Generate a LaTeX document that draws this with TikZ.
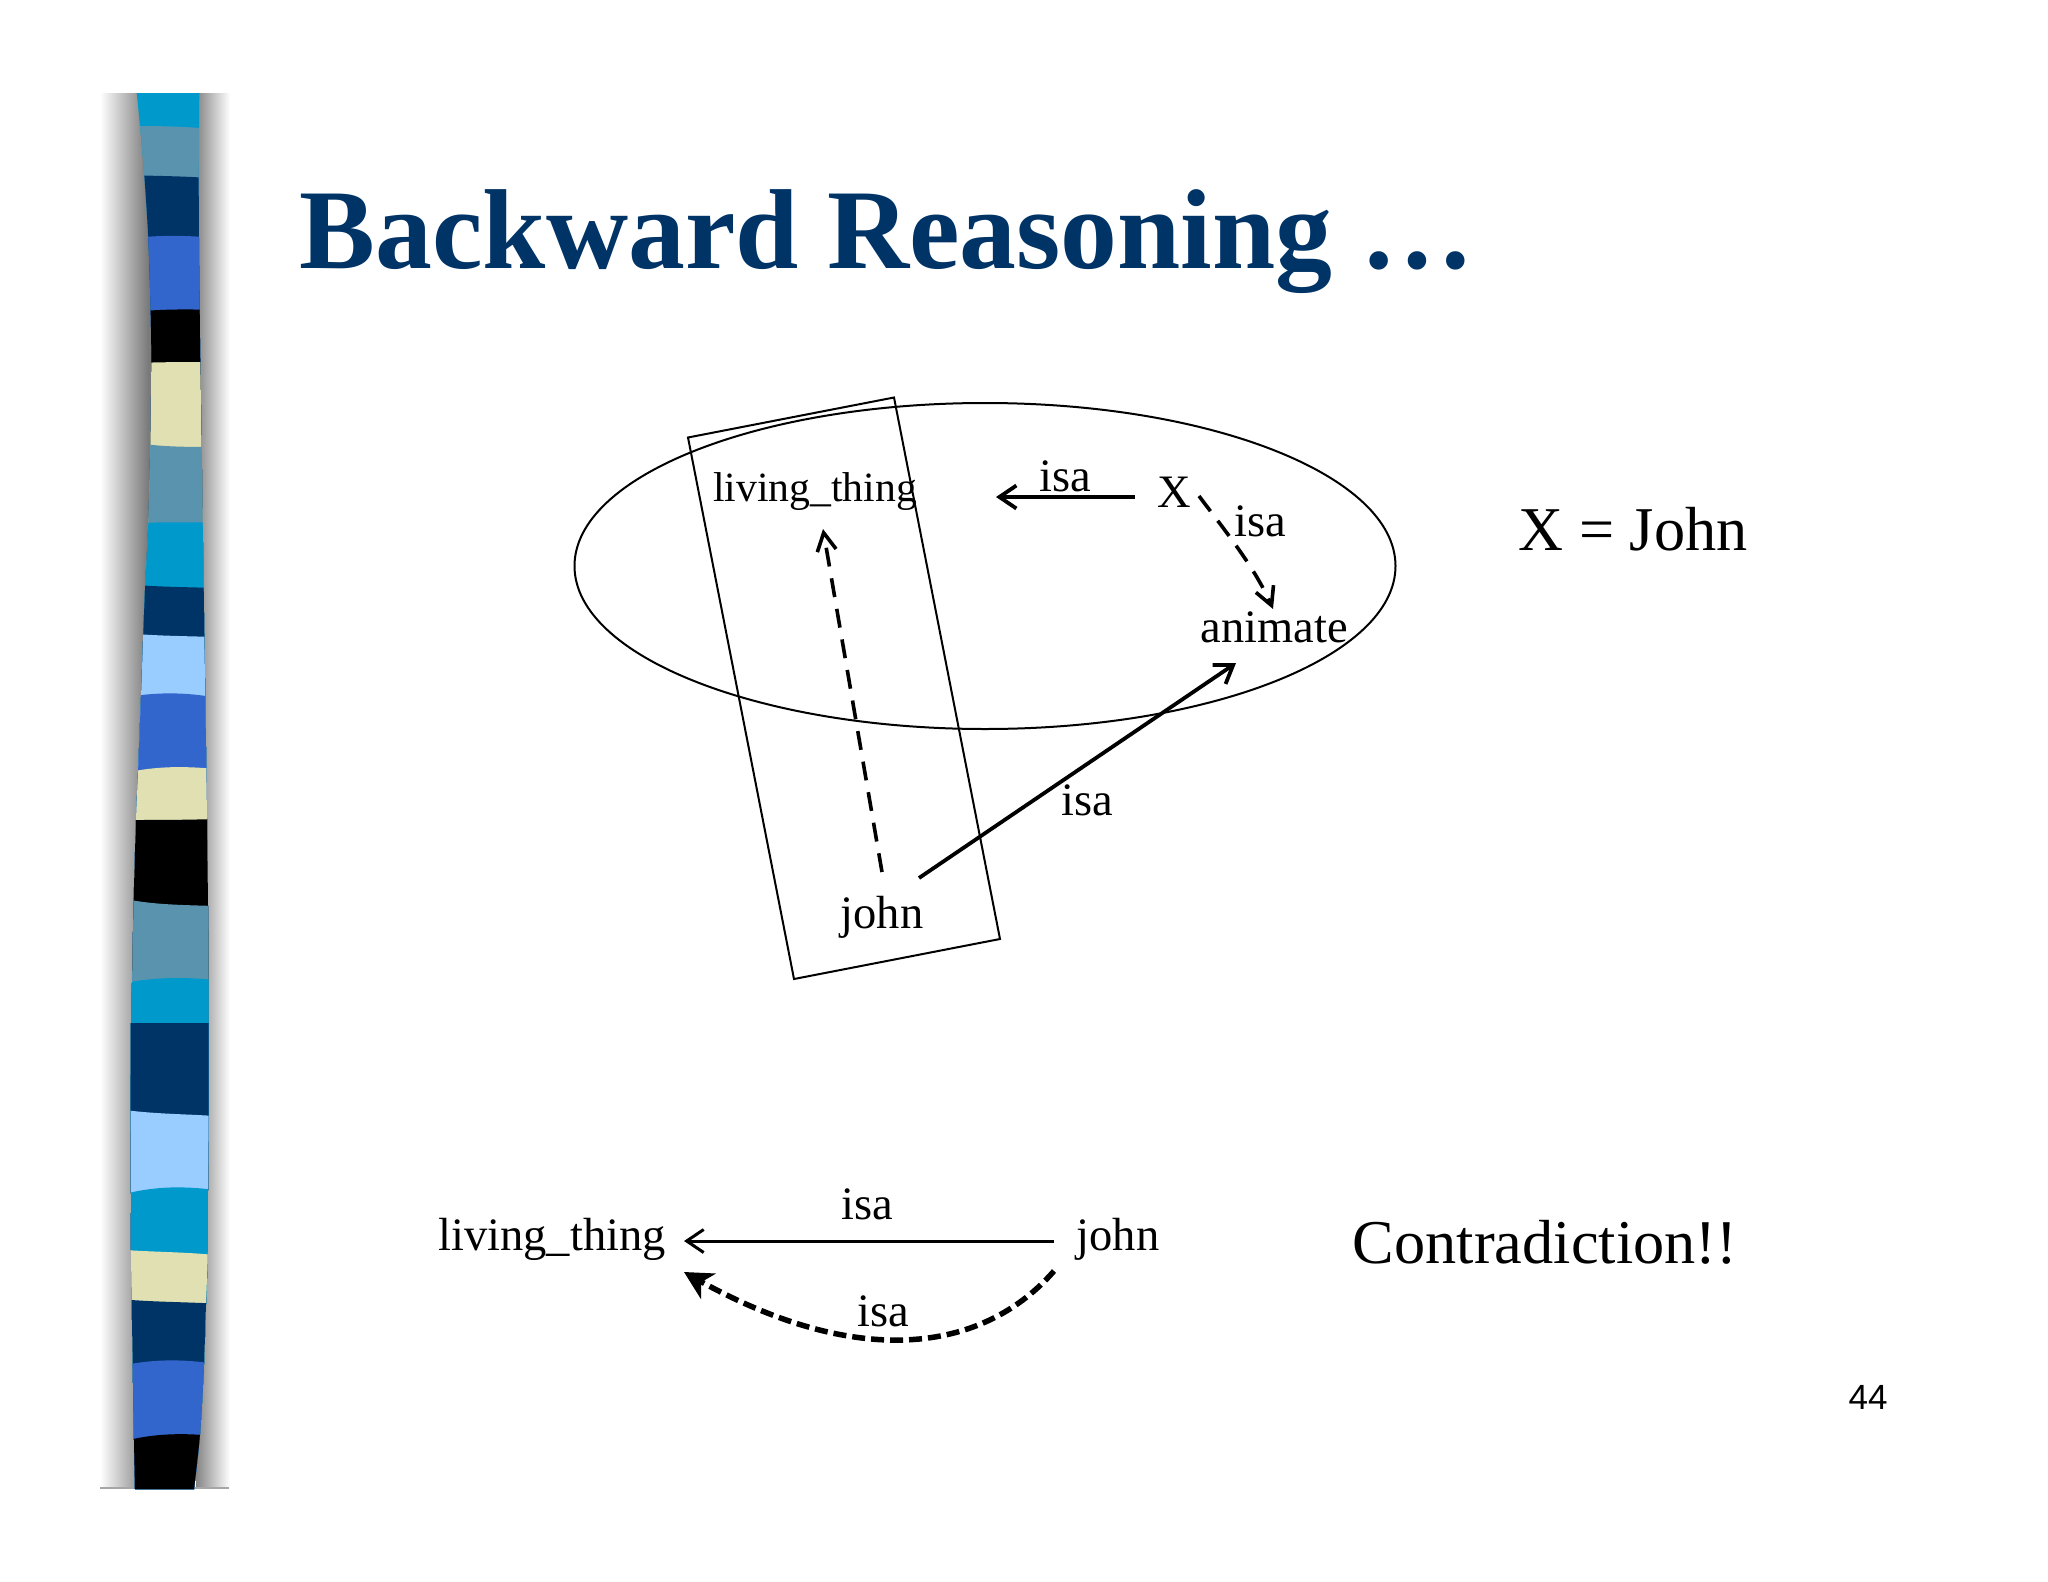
\documentclass[tikz,border=0pt]{standalone}
\usepackage{fontspec}
\setmainfont{Liberation Serif}
\newfontfamily\arialfont{Liberation Sans}
\usetikzlibrary{arrows.meta,shapes.geometric,bending}
\definecolor{titleblue}{HTML}{003366}
\definecolor{bcyan}{HTML}{0099CC}
\definecolor{bsteel}{HTML}{5A93AE}
\definecolor{bnavy}{HTML}{003366}
\definecolor{bblue}{HTML}{3366CC}
\definecolor{bbeige}{HTML}{E0E0B2}
\definecolor{blight}{HTML}{99CCFF}
\tikzset{
  lbl/.style={inner sep=0pt,anchor=base,font=\fontsize{46.5}{50}\selectfont},
  biglbl/.style={inner sep=0pt,anchor=base,font=\fontsize{62.3}{66}\selectfont},
  shape line/.style={draw=black,line width=2pt},
  solidarrow/.style={draw=black,line width=3.8pt,-{Straight Barb[length=17pt,width=23pt,line width=3.8pt]}},
  thinarrow/.style={draw=black,line width=3pt,-{Straight Barb[length=17pt,width=23pt,line width=3pt]}},
  dasharrow/.style={draw=black,line width=3.6pt,dash pattern=on 19pt off 12pt,-{Straight Barb[length=18pt,width=19pt,line width=3.6pt,flex=0]}},
  thickdash/.style={draw=black,line width=5.5pt,dash pattern=on 13pt off 6pt,-{Stealth[length=28pt,width=29pt,inset=8pt,flex=0]}},
}
\begin{document}
\begin{tikzpicture}[x=1pt,y=-1pt]
\useasboundingbox (0,0) rectangle (2048,1582);
% strip shadow
\shade[left color=white,right color=black!52] (100,93) rectangle (148,1488);
\fill[black!52] (148,93) rectangle (160,1488);
\shade[left color=black!48,right color=white] (196,93) rectangle (230,1488);
\fill[black!35] (100,1487) rectangle (229,1489);
% strip
\begin{scope}
\clip plot[smooth] coordinates {(136.7,93) (140,126) (144.3,175) (148.3,239) (150.7,313) (151.3,363) (150.3,443) (148.3,524) (145.3,584) (143.3,633) (141,697) (138,773) (136,820) (133.7,899) (132,983) (131,1023) (130.7,1108) (131,1194) (131,1250) (131.7,1300) (132.7,1365) (134,1440) (135,1489)}
 -- plot[smooth] coordinates {(194,1489) (200,1434) (204,1364) (206,1304) (207.7,1255) (208,1190) (208.7,1115) (208.7,1023) (208.7,980) (208,906) (207,819) (206.3,769) (205.3,697) (204.3,637) (203.7,588) (202.7,523) (201.7,448) (200.3,362) (199.7,310) (199,238) (198.7,178) (199,129) (199.3,93)} -- cycle;
\foreach \c/\yl/\cm/\yr in {
 bcyan/90/90/90, bsteel/126/126/129.5, bnavy/175/176/178.5, bblue/239/235/238,
 black/313/309/310, bbeige/363.5/362/362, bsteel/441/447/447, bcyan/523.7/522/522.7,
 bnavy/584/587/588, blight/633/636/637, bblue/697.5/692/697.5, bbeige/773/766/769,
 black/820/820/819, bsteel/899/905/906, bcyan/983/977/980, bnavy/1023/1023/1023,
 blight/1110/1114/1116, bcyan/1194/1186/1190, bbeige/1250/1252/1255, bnavy/1299.5/1302/1303.6,
 bblue/1365/1359/1364, black/1441/1433/1436}{
  \fill[\c] (125,\yl) .. controls (155,\cm) and (185,\cm) .. (215,\yr) -- (215,1495) -- (125,1495) -- cycle;
}
\end{scope}
% title
\node[inner sep=0pt,anchor=base west,text=titleblue,font=\fontsize{113.7}{118}\selectfont\bfseries] (title) at (299.5,268) {Backward Reasoning …};
% upper diagram
\node[draw=black,line width=2pt,ellipse,inner sep=0pt,minimum width=821pt,minimum height=326pt] (setA) at (985,566) {};
\draw[shape line] (688,437.5) -- (894,397.5) -- (1000,939) -- (794,979) -- cycle;
\node[lbl,font=\fontsize{41.7}{46}\selectfont] (lt1) at (815,501) {living\_thing};
\node[lbl] (x) at (1174,507) {X};
\node[lbl] (isa1) at (1065,491) {isa};
\node[lbl] (isa2) at (1260,536) {isa};
\node[lbl] (animate) at (1274,642) {animate};
\node[lbl] (isa3) at (1087,815) {isa};
\node[lbl] (john1) at (882,928) {john};
\node[biglbl] (eq) at (1633,550) {X = John};
\draw[solidarrow] ([shift={(-39,-10)}]x.base) -- ([shift={(181,-4)}]lt1.base);
\draw[dasharrow] ([shift={(25,-11)}]x.base) .. controls ([shift={(52,25)}]x.base) and ([shift={(83,63)}]x.base) .. ([shift={(-1,-33)}]animate.base);
\draw[solidarrow] ([shift={(37,-50)}]john1.base) -- ([shift={(-38,21)}]animate.base);
\draw[dasharrow] ([shift={(0,-56)}]john1.base) -- ([shift={(8,28)}]lt1.base);
% lower diagram
\node[lbl] (lt2) at (552,1250) {living\_thing};
\node[lbl] (john2) at (1118,1250) {john};
\node[lbl] (isa4) at (867,1219) {isa};
\node[lbl] (isa5) at (883,1326) {isa};
\node[biglbl] (contra) at (1545,1263) {Contradiction!!};
\draw[thinarrow] ([shift={(-64,-9)}]john2.base) -- ([shift={(132,-9)}]lt2.base);
\draw[thickdash] ([shift={(-64,21)}]john2.base) .. controls ([shift={(-133,100)}]john2.base) and ([shift={(-258,125)}]john2.base) .. ([shift={(132,22)}]lt2.base);
\node[inner sep=0pt,anchor=base,font=\fontsize{35}{38}\selectfont\arialfont] (pg) at (1868,1409) {44};
\end{tikzpicture}
\end{document}
